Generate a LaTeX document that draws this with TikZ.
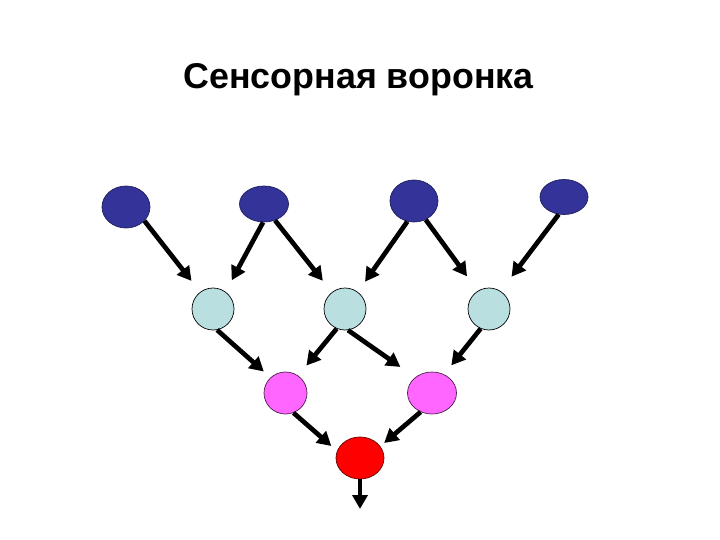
\documentclass[tikz,border=0pt]{standalone}
\usepackage{fontspec}
\setmainfont{Liberation Sans}
\usetikzlibrary{shapes.geometric,arrows.meta}
\definecolor{topblue}{HTML}{333399}
\definecolor{midcyan}{HTML}{B9DFE1}
\definecolor{pinkc}{HTML}{FF66FF}
\definecolor{redc}{HTML}{FF0000}
\begin{document}
\begin{tikzpicture}[x=1pt,y=-1pt,
  blob/.style={ellipse,draw=black,line width=0.7pt,inner sep=0pt},
  topn/.style={blob,fill=topblue,draw=topblue!60!black},
  midn/.style={blob,fill=midcyan,minimum width=42pt,minimum height=42pt},
  pinkn/.style={blob,fill=pinkc,draw=pinkc!30!black},
  redn/.style={blob,fill=redc,draw=redc!40!black,minimum width=48pt,minimum height=42pt},
  arr/.style={line width=4.7pt,-{Triangle[length=14pt,width=15pt]}}]
\useasboundingbox (0,0) rectangle (720,540);
\node[anchor=base,font=\fontsize{35.8}{40}\selectfont\bfseries] (title) at (358.5,89) {Сенсорная воронка};
% top row
\node[topn,minimum width=48pt,minimum height=42pt] (t1) at (126,207) {};
\node[topn,minimum width=49pt,minimum height=36pt] (t2) at (264,204) {};
\node[topn,minimum width=48pt,minimum height=42pt] (t3) at (414,201) {};
\node[topn,minimum width=48pt,minimum height=35pt] (t4) at (564,197) {};
% middle row
\node[midn] (m1) at (213,309) {};
\node[midn] (m2) at (345,309) {};
\node[midn] (m3) at (489,309) {};
% pink row
\node[pinkn,minimum width=43pt,minimum height=42pt] (p1) at (285.5,393) {};
\node[pinkn,minimum width=49pt,minimum height=42pt] (p2) at (432,393) {};
% red
\node[redn] (r) at (360,458) {};
\coordinate (out) at (360,509);
% arrows
\draw[arr,shorten >=14pt] (t1.-37) -- (m1.127);
\draw[arr,shorten >=13pt] (t2.-93) -- (m1.54);
\draw[arr,shorten >=14.5pt] (t2.-56) -- (m2.128);
\draw[arr,shorten >=12.5pt] (t3.-108) -- (m2.53);
\draw[arr,shorten >=18pt] (t3.-58) -- (m3.122);
\draw[arr,shorten >=18pt] (t4.-107) -- (m3.57);
\draw[arr,shorten >=9pt] (m1.-79) -- (p1.134);
\draw[arr,shorten >=13pt] (m2.-113) -- (p1.54);
\draw[arr,shorten >=18pt] (m2.-82) -- (p2.137);
\draw[arr,shorten >=11.5pt] (m3.-113) -- (p2.57);
\draw[arr,shorten >=7.5pt] (p1.-68) -- (r.163);
\draw[arr,shorten >=5pt] (p2.-121) -- (r.30);
\draw[arr] (r.south) -- (out);
\end{tikzpicture}
\end{document}
